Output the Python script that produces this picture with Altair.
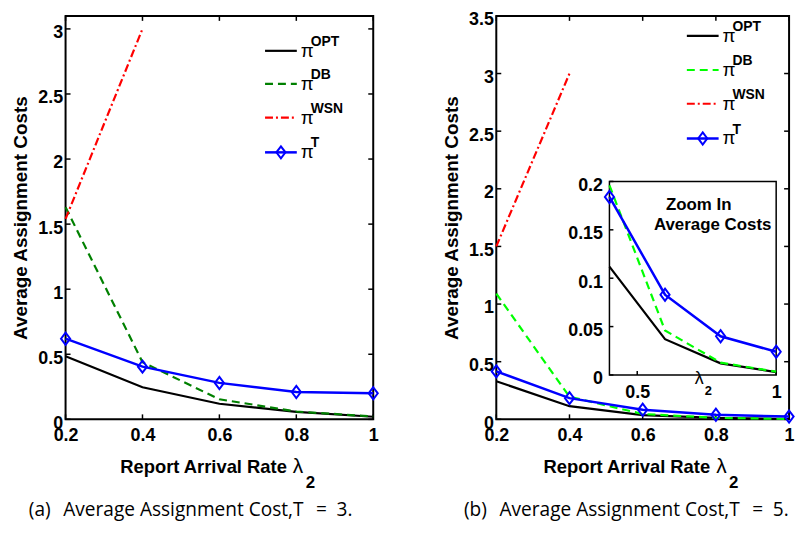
import altair as alt
import pandas as pd

# ---------------- data ----------------
X = [0.2, 0.4, 0.6, 0.8, 1.0]
X_WSN = [0.2, 0.4]

# panel (a), T = 3
A_OPT = [0.485, 0.246, 0.12, 0.058, 0.02]
A_DB = [1.63, 0.44, 0.154, 0.06, 0.022]
A_WSN = [1.54, 3.0]
A_T = [0.62, 0.405, 0.28, 0.21, 0.2]

# panel (b), T = 5
B_OPT = [0.33, 0.114, 0.037, 0.012, 0.003]
B_DB = [1.09, 0.196, 0.046, 0.013, 0.0035]
B_WSN = [1.5, 3.0]
B_T = [0.416, 0.184, 0.083, 0.040, 0.024]

# inset of panel (b)
X_IN = [0.4, 0.6, 0.8, 1.0]
IN_OPT = [0.112, 0.037, 0.012, 0.003]
IN_DB = [0.196, 0.046, 0.0127, 0.0034]
IN_T = [0.184, 0.083, 0.040, 0.024]

X_TICKS = [0.2, 0.4, 0.6, 0.8, 1.0]
A_Y_TICKS = [0, 0.5, 1, 1.5, 2, 2.5, 3]
B_Y_TICKS = [0, 0.5, 1, 1.5, 2, 2.5, 3, 3.5]
IN_X_TICKS = [0.5, 1.0]
IN_Y_TICKS = [0, 0.05, 0.1, 0.15, 0.2]
IN_X_DOM = [0.4, 1.0]
IN_Y_DOM = [0, 0.2]

NAMES = ["OPT", "DB", "WSN", "T"]
CAPTIONS = ["(a)\u2002\u2009Average Assignment Cost,T\u2002\u2009=\u20023.",
            "(b)\u2002\u2009Average Assignment Cost,T\u2002\u2009=\u20025."]
Y_TITLE = "Average Assignment Costs"
X_TITLE = "Report Arrival Rate"
INSET_TITLE = ["Zoom In", "Average Costs"]

# ---------------- styling / layout ----------------
W1, W2, H = 310, 295, 406.5
FONT = "Liberation Sans"
DIAMOND = "M0,-1L0.75,0L0,1L-0.75,0Z"
STY_A = {"OPT": ("#000000", None, 2.2), "DB": ("#008000", [8, 5], 2.2),
         "WSN": ("#ff0000", [8, 3, 2, 3], 2.2), "T": ("#0000ff", None, 2.5)}
STY_B = {"OPT": ("#000000", None, 2.2), "DB": ("#00ff00", [8, 5], 2.2),
         "WSN": ("#ff0000", [8, 3, 2, 3], 2.2), "T": ("#0000ff", None, 2.5)}


def line_layers(xs, ys, sty, xenc, yenc, markers=False):
    color, dash, width = sty
    df = pd.DataFrame({"x": xs, "y": ys})
    base = alt.Chart(df).encode(x=alt.X("x:Q", **xenc), y=alt.Y("y:Q", **yenc))
    kw = dict(color=color, strokeWidth=width)
    if dash:
        kw["strokeDash"] = dash
    out = [base.mark_line(**kw)]
    if markers:
        out.append(base.mark_point(shape=DIAMOND, size=150, filled=False,
                                   color=color, strokeWidth=2, opacity=1))
    return out


def tick_rules(vals, enc_kw, channel, p0, p1):
    df = pd.DataFrame({"v": vals})
    c = alt.Chart(df).mark_rule(color="black", strokeWidth=1.5)
    if channel == "y":
        return c.encode(y=alt.Y("v:Q", **enc_kw), x=alt.value(p0), x2=alt.value(p1))
    return c.encode(x=alt.X("v:Q", **enc_kw), y=alt.value(p0), y2=alt.value(p1))


def text(t, x, y, size, weight="bold", align="left", font=FONT):
    return alt.Chart(pd.DataFrame({"t": [t]})).mark_text(
        align=align, baseline="alphabetic", font=font, fontSize=size,
        fontWeight=weight, color="black").encode(
        text="t:N", x=alt.value(x), y=alt.value(y))


def legend(sty, x0, x1, ys):
    out = []
    for name, yy in zip(NAMES, ys):
        color, dash, width = sty[name]
        kw = dict(color=color, strokeWidth=width)
        if dash:
            kw["strokeDash"] = dash
        one = pd.DataFrame({"k": [name]})
        out.append(alt.Chart(one).mark_rule(**kw).encode(
            x=alt.value(x0), x2=alt.value(x1), y=alt.value(yy)))
        if name == "T":
            out.append(alt.Chart(one).mark_point(
                shape=DIAMOND, size=150, filled=False, color=color,
                strokeWidth=2, opacity=1).encode(
                x=alt.value((x0 + x1) / 2), y=alt.value(yy)))
        out.append(text("\u03c0", x1 + 4, yy + 6, 19, weight="normal"))
        out.append(text(name, x1 + 14, yy - 5, 14))
    return out


def x_title(w):
    return [text(X_TITLE, w / 2 + 68, H + 53.7, 18.5, align="right"),
            text("\u03bb", w / 2 + 74, H + 53.7, 21, weight="normal"),
            text("2", w / 2 + 87, H + 69, 17)]


def panel(w, ydom, yticks, opt, db, wsn, tt, sty, leg_x0, leg_ys, caption, cap_x):
    xs = alt.Scale(domain=[0.2, 1.0], nice=False, zero=False)
    ys = alt.Scale(domain=ydom, nice=False, zero=False)
    xenc = dict(scale=xs, axis=alt.Axis(values=X_TICKS, format="~g", title=None,
                                        labelPadding=7))
    yenc = dict(scale=ys, axis=alt.Axis(values=yticks, format="~g", title=Y_TITLE,
                                        labelPadding=3, titlePadding=7.5))
    layers = [
        tick_rules(yticks, yenc, "y", 0, 5),
        tick_rules(yticks, yenc, "y", w - 5, w),
        tick_rules(X_TICKS, xenc, "x", 0, 5),
        tick_rules(X_TICKS, xenc, "x", H - 5, H),
    ]
    layers += line_layers(X, opt, sty["OPT"], xenc, yenc)
    layers += line_layers(X, db, sty["DB"], xenc, yenc)
    layers += line_layers(X_WSN, wsn, sty["WSN"], xenc, yenc)
    layers += line_layers(X, tt, sty["T"], xenc, yenc, markers=True)
    layers += legend(sty, leg_x0, leg_x0 + 32, leg_ys)
    layers += x_title(w)
    layers.append(text(caption, cap_x, H + 97, 19.2, weight="normal",
                       align="center", font="Open Sans"))
    return alt.layer(*layers)


left = panel(W1, [0, 3.1], A_Y_TICKS, A_OPT, A_DB, A_WSN, A_T, STY_A,
             201, [35.2, 68.5, 102.5, 137.5], CAPTIONS[0], 126).properties(width=W1, height=H)

main_b = panel(W2, [0, 3.5], B_Y_TICKS, B_OPT, B_DB, B_WSN, B_T, STY_B,
               192, [20.2, 54.5, 88.5, 123.5], CAPTIONS[1], 131)

# ---- inset (own scales mapped onto a sub-rectangle of panel b) ----
IX0, IX1 = 114, 282
IY0, IY1 = 361.8, 166.8
ixs = alt.Scale(domain=IN_X_DOM, range=[IX0, IX1], nice=False, zero=False)
iys = alt.Scale(domain=IN_Y_DOM, range=[IY0, IY1], nice=False, zero=False)
ixenc = dict(scale=ixs, axis=alt.Axis(orient="bottom", offset=IY0 - H, values=IN_X_TICKS,
                                      format="~g", title=None, labelPadding=9))
iyenc = dict(scale=iys, axis=alt.Axis(orient="left", offset=-IX0, values=IN_Y_TICKS,
                                      format="~g", title=None, labelPadding=7))
box = alt.Chart(pd.DataFrame({"x0": [IN_X_DOM[0]], "x1": [IN_X_DOM[1]],
                              "y0": [IN_Y_DOM[0]], "y1": [IN_Y_DOM[1]]})).mark_rect(
    fill="white", stroke="black", strokeWidth=1.5).encode(
    x=alt.X("x0:Q", **ixenc), x2="x1:Q",
    y=alt.Y("y0:Q", **iyenc), y2="y1:Q")
inset_layers = [box,
                tick_rules(IN_Y_TICKS, iyenc, "y", IX0, IX0 + 4),
                tick_rules(IN_X_TICKS, ixenc, "x", IY0 - 4, IY0)]
inset_layers += line_layers(X_IN, IN_OPT, STY_B["OPT"], ixenc, iyenc)
inset_layers += line_layers(X_IN, IN_DB, STY_B["DB"], ixenc, iyenc)
inset_layers += line_layers(X_IN, IN_T, STY_B["T"], ixenc, iyenc, markers=True)
inset_layers += [text(INSET_TITLE[0], 204, 195.5, 17, align="center"),
                 text(INSET_TITLE[1], 218, 216.2, 17, align="center"),
                 text("\u03bb", 200, 370.5, 18, weight="normal"),
                 text("2", 210, 381.5, 13)]
inset = alt.layer(*inset_layers)

right = alt.layer(main_b, inset).resolve_scale(
    x="independent", y="independent").properties(width=W2, height=H)

chart = alt.hconcat(left, right, spacing=124, bounds="flush").properties(
    padding={"left": 2, "top": 0, "right": 0, "bottom": 0}
).configure_view(stroke="black", strokeWidth=2).configure_axis(
    labelFont=FONT, labelFontSize=18, labelFontWeight="bold", labelColor="black",
    titleFont=FONT, titleFontSize=19, titleFontWeight="bold", titleColor="black",
    ticks=False, tickSize=0, domain=False, grid=False,
    labelFlush=False, labelOverlap=False
).configure_axisY(labelBaseline="top", labelOffset=-5)

chart.save("out.html", embed_options={"renderer": "svg", "actions": False})
